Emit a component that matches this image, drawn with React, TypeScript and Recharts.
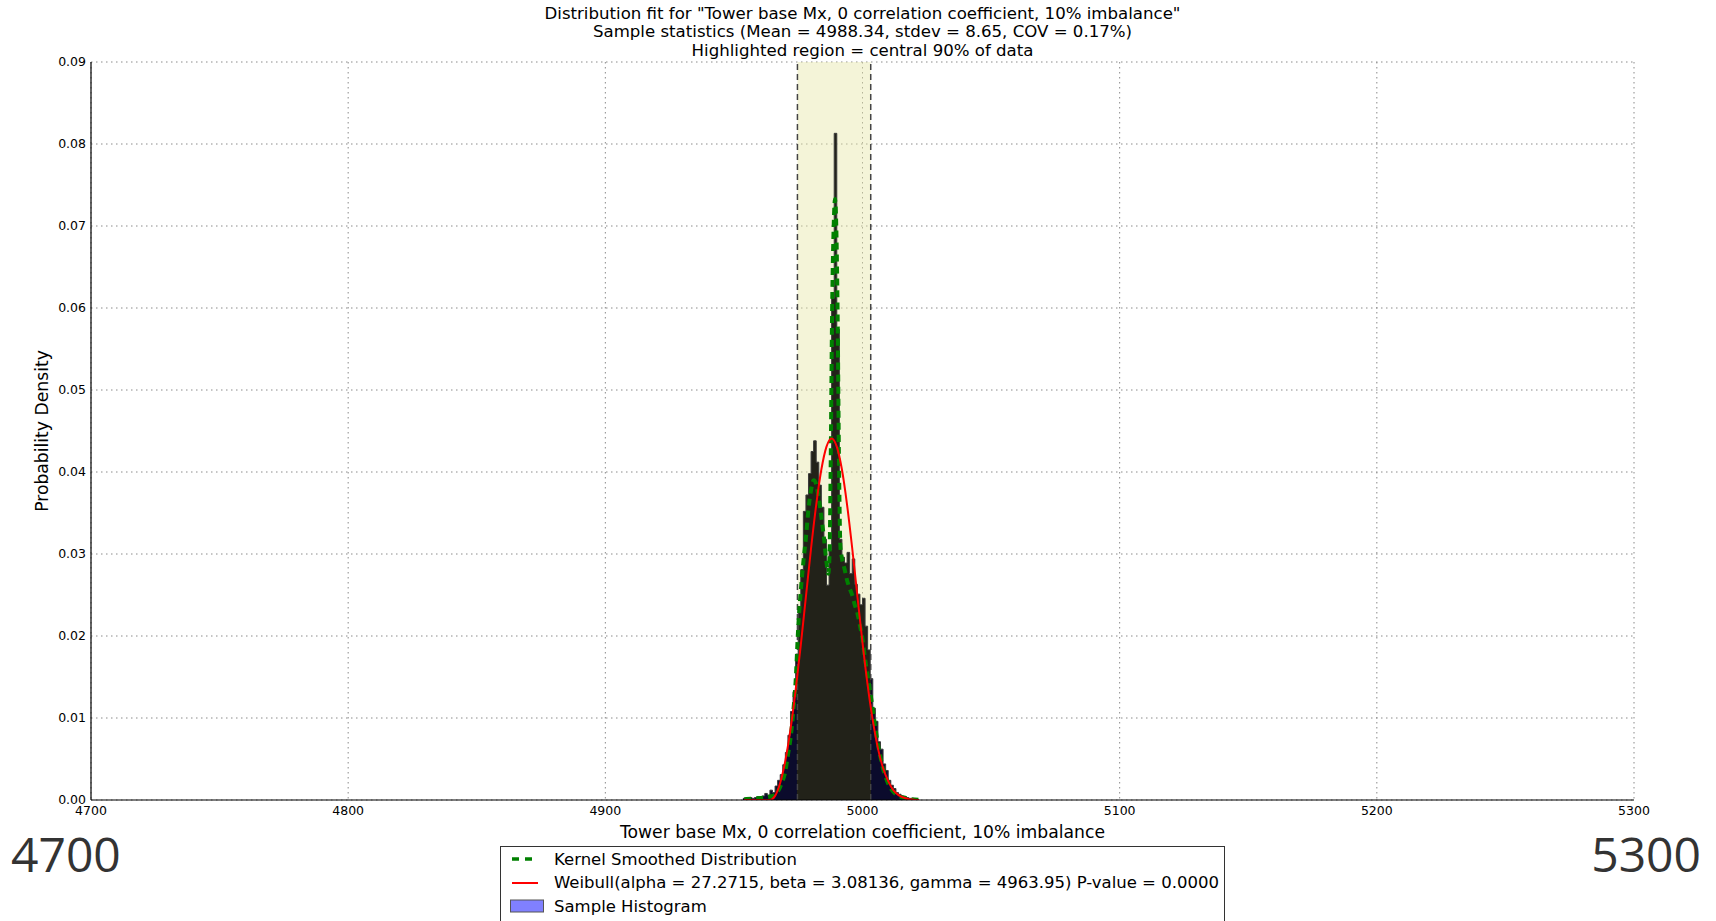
import {
  Area,
  CartesianGrid,
  ComposedChart,
  Line,
  ReferenceArea,
  ReferenceLine,
  XAxis,
  YAxis,
} from 'recharts';

// histogram, 1-unit bins (bin centres)
const binCenters = [
  4953.5, 4954.5, 4955.5, 4956.5, 4957.5, 4958.5, 4959.5, 4960.5, 4961.5, 4962.5,
  4963.5, 4964.5, 4965.5, 4966.5, 4967.5, 4968.5, 4969.5, 4970.5, 4971.5, 4972.5,
  4973.5, 4974.5, 4975.5, 4976.5, 4977.5, 4978.5, 4979.5, 4980.5, 4981.5, 4982.5,
  4983.5, 4984.5, 4985.5, 4986.5, 4987.5, 4988.5, 4989.5, 4990.5, 4991.5, 4992.5,
  4993.5, 4994.5, 4995.5, 4996.5, 4997.5, 4998.5, 4999.5, 5000.5, 5001.5, 5002.5,
  5003.5, 5004.5, 5005.5, 5006.5, 5007.5, 5008.5, 5009.5, 5010.5, 5011.5, 5012.5,
  5013.5, 5014.5, 5015.5, 5016.5, 5017.5, 5018.5, 5019.5, 5020.5, 5021.5,
];

const histDensity = [
  0.0002, 0.0002, 0.0001, 0.0003, 0.0002, 0.0003, 0.0004, 0.0003, 0.0005, 0.0008,
  0.0006, 0.0012, 0.0009, 0.0017, 0.0024, 0.0031, 0.0043, 0.0058, 0.0079, 0.0108,
  0.0132, 0.0178, 0.0236, 0.0281, 0.0352, 0.0372, 0.0398, 0.0425, 0.0438, 0.0412,
  0.0384, 0.0357, 0.0318, 0.0262, 0.0305, 0.0612, 0.0813, 0.0574, 0.0318, 0.0296,
  0.0289, 0.0302, 0.0276, 0.0294, 0.0263, 0.0251, 0.0238, 0.0246, 0.0212, 0.0183,
  0.0148, 0.0112, 0.0096, 0.0071, 0.0062, 0.0044, 0.0036, 0.0024, 0.0018, 0.0014,
  0.0009, 0.0007, 0.0005, 0.0004, 0.0003, 0.0002, 0.0002, 0.0001, 0.0001,
];

// kernel smoothed distribution
const kdeX = [
  4954, 4958, 4962, 4965, 4967, 4968.5, 4970, 4971, 4972, 4973,
  4974, 4975, 4976, 4977, 4978, 4979, 4980, 4981, 4982, 4983,
  4984, 4985, 4986, 4986.7, 4987.2, 4987.6, 4988.2, 4988.8, 4989.3, 4989.8,
  4990.3, 4990.9, 4991.4, 4992, 4993, 4994, 4995, 4996, 4997, 4998,
  4999, 5000, 5001, 5002, 5003, 5004, 5005, 5006, 5007, 5008,
  5009, 5010, 5012, 5014, 5016, 5019, 5023,
];
const kdeY = [
  0.0001, 0.0002, 0.0003, 0.0005, 0.001, 0.002, 0.0035, 0.0055, 0.0075, 0.0105,
  0.0145, 0.021, 0.0255, 0.029, 0.032, 0.0355, 0.0378, 0.039, 0.0385, 0.0368,
  0.0345, 0.032, 0.029, 0.0276, 0.03, 0.04, 0.06, 0.07, 0.0733, 0.07,
  0.06, 0.04, 0.031, 0.0295, 0.0282, 0.0268, 0.0258, 0.025, 0.0238, 0.0228,
  0.0213, 0.0196, 0.0172, 0.0152, 0.0132, 0.011, 0.0088, 0.0068, 0.0052, 0.0038,
  0.0028, 0.002, 0.001, 0.0005, 0.0003, 0.0001, 0,
];

// Weibull fit
const wbX = [
  4954, 4964, 4966, 4968, 4970, 4972, 4974, 4976, 4978, 4980, 4982, 4984, 4986, 4988, 4990, 4992,
  4994, 4996, 4998, 5000, 5002, 5004, 5006, 5008, 5010, 5012, 5014, 5016, 5018, 5020, 5022,
];
const wbY = [
  0, 0, 0.0005, 0.0021, 0.0048, 0.0086, 0.0134, 0.0189, 0.0248, 0.0307, 0.036, 0.0403, 0.0431,
  0.0441, 0.0431, 0.0403, 0.036, 0.0307, 0.0249, 0.0192, 0.014, 0.0097, 0.0063, 0.0039, 0.0023,
  0.0012, 0.0006, 0.0003, 0.0001, 0.00004, 0,
];

const xTicks = [4700, 4800, 4900, 5000, 5100, 5200, 5300];
const yTicks = [0, 0.01, 0.02, 0.03, 0.04, 0.05, 0.06, 0.07, 0.08, 0.09];
const regionLow = 4974.7;
const regionHigh = 5003.2;

const titleLines = [
  'Distribution fit for "Tower base Mx, 0 correlation coefficient, 10% imbalance"',
  'Sample statistics (Mean = 4988.34, stdev = 8.65, COV = 0.17%)',
  'Highlighted region = central 90% of data',
];
const xLabel = 'Tower base Mx, 0 correlation coefficient, 10% imbalance';
const yLabel = 'Probability Density';
const legendLabels = [
  'Kernel Smoothed Distribution',
  'Weibull(alpha = 27.2715, beta = 3.08136, gamma = 4963.95) P-value = 0.0000',
  'Sample Histogram',
];

const histData = binCenters.map((x, i) => ({ x, density: histDensity[i] }));
const kdeData = kdeX.map((x, i) => ({ x, kde: kdeY[i] }));
const wbData = wbX.map((x, i) => ({ x, weibull: wbY[i] }));

// gradient stops so bins inside the highlighted region look darker olive
const histMin = binCenters[0];
const histSpan = binCenters[binCenters.length - 1] - histMin;
const lowFrac = (regionLow - histMin) / histSpan;
const highFrac = (regionHigh - histMin) / histSpan;

const FONT = '"DejaVu Sans", sans-serif';
const tickStyle = { fontSize: 12.5, fill: '#000', fontFamily: FONT };
const OUTSIDE = '#0b0b2c';
const INSIDE = '#222219';

export default function App() {
  return (
    <div
      style={{
        position: 'absolute',
        left: 0,
        top: 0,
        width: 1716,
        height: 921,
        overflow: 'hidden',
        background: '#fff',
        fontFamily: FONT,
        color: '#000',
      }}
    >
      {titleLines.map((line, i) => (
        <div
          key={line}
          style={{
            position: 'absolute',
            left: 91,
            width: 1543,
            top: 4 + i * 18.3,
            textAlign: 'center',
            fontSize: 16.6,
            lineHeight: '19px',
          }}
        >
          {line}
        </div>
      ))}

      <ComposedChart
        width={1716}
        height={921}
        data={histData}
        margin={{ top: 62, right: 82, bottom: 91, left: 41 }}
        style={{ position: 'absolute', left: 0, top: 0 }}
      >
        <defs>
          <linearGradient id="histFill" x1="0" y1="0" x2="1" y2="0">
            <stop offset={0} stopColor={OUTSIDE} />
            <stop offset={lowFrac} stopColor={OUTSIDE} />
            <stop offset={lowFrac} stopColor={INSIDE} />
            <stop offset={highFrac} stopColor={INSIDE} />
            <stop offset={highFrac} stopColor={OUTSIDE} />
            <stop offset={1} stopColor={OUTSIDE} />
          </linearGradient>
        </defs>
        <CartesianGrid stroke="#8a8a8a" strokeDasharray="1.5 3.5" strokeWidth={1} />
        <ReferenceArea
          x1={regionLow}
          x2={regionHigh}
          fill="#e6e6a8"
          fillOpacity={0.45}
          stroke="none"
        />
        <XAxis
          dataKey="x"
          type="number"
          domain={[4700, 5300]}
          ticks={xTicks}
          allowDataOverflow
          tickLine={false}
          tickSize={4}
          tickMargin={2}
          height={30}
          axisLine={{ stroke: '#000', strokeWidth: 1.2 }}
          tick={tickStyle}
        />
        <XAxis
          xAxisId="top"
          orientation="top"
          type="number"
          domain={[4700, 5300]}
          height={0}
          tick={false}
          tickLine={false}
          axisLine={{ stroke: '#000', strokeWidth: 1.2 }}
        />
        <YAxis
          type="number"
          domain={[0, 0.09]}
          ticks={yTicks}
          allowDataOverflow
          width={50}
          tickLine={false}
          tickSize={3}
          tickMargin={2}
          tickFormatter={(v: number) => v.toFixed(2)}
          axisLine={{ stroke: '#000', strokeWidth: 1.2 }}
          tick={tickStyle}
        />
        <YAxis
          yAxisId="right"
          orientation="right"
          type="number"
          domain={[0, 0.09]}
          width={0}
          tick={false}
          tickLine={false}
          axisLine={{ stroke: '#000', strokeWidth: 1.2 }}
        />
        <Area
          dataKey="density"
          type="step"
          fill="url(#histFill)"
          fillOpacity={1}
          stroke="#3a3a3a"
          strokeWidth={1}
          dot={false}
          activeDot={false}
          isAnimationActive={false}
        />
        <ReferenceLine x={regionLow} stroke="#444" strokeDasharray="6 4" strokeWidth={1.5} />
        <ReferenceLine x={regionHigh} stroke="#444" strokeDasharray="6 4" strokeWidth={1.5} />
        <Line
          data={kdeData}
          dataKey="kde"
          type="monotone"
          stroke="#008000"
          strokeWidth={4}
          strokeDasharray="7 5"
          dot={false}
          isAnimationActive={false}
        />
        <Line
          data={wbData}
          dataKey="weibull"
          type="monotone"
          stroke="#ff0000"
          strokeWidth={2}
          dot={false}
          isAnimationActive={false}
        />
      </ComposedChart>

      <div
        style={{
          position: 'absolute',
          left: 91,
          width: 1543,
          top: 822,
          textAlign: 'center',
          fontSize: 17.2,
        }}
      >
        {xLabel}
      </div>
      <div
        style={{
          position: 'absolute',
          left: 42,
          top: 431,
          fontSize: 17.2,
          whiteSpace: 'nowrap',
          transform: 'translate(-50%, -50%) rotate(-90deg)',
        }}
      >
        {yLabel}
      </div>

      <div
        style={{
          position: 'absolute',
          left: 11,
          top: 830,
          fontSize: 48,
          color: '#333',
          fontFamily: '"Open Sans", sans-serif',
          lineHeight: 1,
        }}
      >
        4700
      </div>
      <div
        style={{
          position: 'absolute',
          right: 15,
          top: 830,
          fontSize: 48,
          color: '#333',
          fontFamily: '"Open Sans", sans-serif',
          lineHeight: 1,
        }}
      >
        5300
      </div>

      <div
        style={{
          position: 'absolute',
          left: 500,
          top: 846,
          width: 725,
          height: 100,
          border: '1.5px solid #333',
          background: '#fff',
          boxSizing: 'border-box',
        }}
      >
        {legendLabels.map((label, i) => (
          <div
            key={label}
            style={{
              position: 'absolute',
              left: 9,
              top: 1 + i * 23.5,
              height: 22,
              display: 'flex',
              alignItems: 'center',
              fontSize: 16.5,
              whiteSpace: 'nowrap',
            }}
          >
            <svg width={34} height={16} style={{ marginRight: 10 }}>
              {i === 0 && (
                <line x1={2} y1={8} x2={28} y2={8} stroke="#008000" strokeWidth={3.5} strokeDasharray="7 6" />
              )}
              {i === 1 && <line x1={2} y1={8} x2={28} y2={8} stroke="#ff0000" strokeWidth={2} />}
              {i === 2 && (
                <rect x={0.5} y={2} width={33} height={12} fill="#8080ff" stroke="#555" strokeWidth={1} />
              )}
            </svg>
            {label}
          </div>
        ))}
      </div>
    </div>
  );
}
